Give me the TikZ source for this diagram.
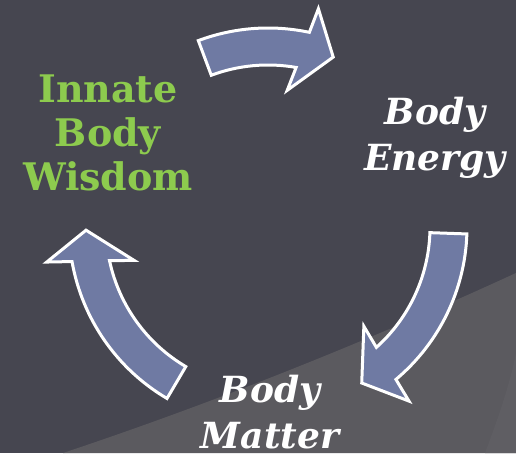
\documentclass[tikz,border=0pt]{standalone}
\usepackage{fontspec}
\setmainfont{DejaVu Serif}
\usetikzlibrary{calc}
\definecolor{slide}{RGB}{70,70,80}
\definecolor{floor}{RGB}{91,90,95}
\definecolor{floorlight}{RGB}{95,94,99}
\definecolor{cycle}{RGB}{111,122,163}
\definecolor{wisdom}{RGB}{141,203,78}
\tikzstyle{cyclearrow}=[fill=cycle, draw=white, line width=3pt]
\tikzset{innate/.style={align=center, inner sep=0, anchor=north, text=wisdom,
    font=\fontsize{38}{44}\selectfont\bfseries}}
\tikzset{state/.style={align=center, inner sep=0, anchor=north, text=white,
    font=\fontsize{36}{46}\selectfont\bfseries\itshape}}
% curved block arrow round (hub): #1 tail angle, #2 tip angle
\newcommand{\bentarrow}[2]{%
  \draw[cyclearrow] ($(hub)+(#1:199pt)$) arc[start angle=#1, end angle=#2+9, radius=199pt]
    -- ($(hub)+(#2+8:224pt)$) -- ($(hub)+(#2:182pt)$) -- ($(hub)+(#2+13:138pt)$)
    -- ($(hub)+(#2+11:162pt)$) arc[start angle=#2+11, end angle=#1, radius=162pt] -- cycle;}

\begin{document}
\begin{tikzpicture}[x=1pt,y=1pt]
  \useasboundingbox (0,0) rectangle (516,453);
  \fill[slide] (0,0) rectangle (516,453);
  %% Floor
  \fill[floor] (63,0) .. controls (213,50) and (366,111) .. (516,180) -- (516,0) -- cycle;
  \fill[floorlight] (485,0) .. controls (500,40) and (510,70) .. (516,100) -- (516,0) -- cycle;

  \coordinate (hub) at (268,226);
  \bentarrow{110.5}{69}
  \bentarrow{-2}{-59}
  \bentarrow{239.5}{181}

  %% Labels
  \draw (108,378) node[innate] (wisdom) {Innate\\Body\\Wisdom};
  \draw (435,356) node[state] (energy) {Body\\Energy};
  \draw (270,78) node[state] (matter) {Body\\Matter};
\end{tikzpicture}
\end{document}
